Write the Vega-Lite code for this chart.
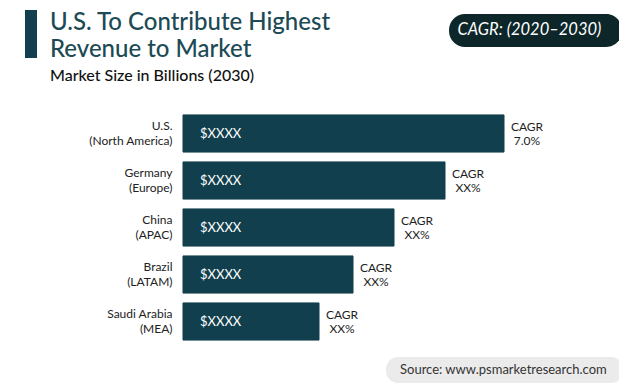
{
  "$schema": "https://vega.github.io/schema/vega-lite/v6.json",
  "autosize": "none",
  "width": 380,
  "height": 235,
  "padding": {"left": 183, "top": 110, "right": 56, "bottom": 47},
  "background": "white",
  "title": {
    "text": ["U.S. To Contribute Highest", "Revenue to Market"],
    "subtitle": "Market Size in Billions (2030)",
    "anchor": "start",
    "frame": "group",
    "offset": 0,
    "dx": -133,
    "dy": 80,
    "font": "Lato",
    "fontSize": 24,
    "fontWeight": 500,
    "color": "#1c4a55",
    "lineHeight": 27,
    "subtitleFont": "Lato",
    "subtitleFontSize": 16,
    "subtitleColor": "#111111",
    "subtitleFontWeight": 500,
    "subtitlePadding": 6
  },
  "data": {
    "values": [
      {"region": "U.S.\n(North America)", "value": 32.1, "size": "$XXXX", "cagr": "CAGR\n7.0%"},
      {"region": "Germany\n(Europe)", "value": 26.2, "size": "$XXXX", "cagr": "CAGR\nXX%"},
      {"region": "China\n(APAC)", "value": 21.1, "size": "$XXXX", "cagr": "CAGR\nXX%"},
      {"region": "Brazil\n(LATAM)", "value": 17.0, "size": "$XXXX", "cagr": "CAGR\nXX%"},
      {"region": "Saudi Arabia\n(MEA)", "value": 13.6, "size": "$XXXX", "cagr": "CAGR\nXX%"}
    ]
  },
  "encoding": {
    "y": {
      "field": "region",
      "type": "nominal",
      "sort": null,
      "scale": {"paddingInner": 0.21, "paddingOuter": 0.105},
      "axis": {
        "title": null,
        "ticks": false,
        "domain": false,
        "labelPadding": 11,
        "labelOffset": -7.5,
        "labelFont": "Lato",
        "labelFontSize": 12,
        "labelColor": "#222222",
        "labelLineHeight": 15,
        "labelExpr": "split(datum.label, '\\n')"
      }
    }
  },
  "layer": [
    {
      "mark": {"type": "bar"},
      "encoding": {
        "x": {"field": "value", "type": "quantitative", "scale": {"domain": [0, 38], "nice": false, "zero": true}, "axis": null},
        "color": {
          "datum": "CAGR: (2020–2030)",
          "scale": {"range": ["#123f4d"]},
          "legend": {
            "title": null,
            "orient": "none",
            "legendX": 266,
            "legendY": -96,
            "fillColor": "#0d2629",
            "cornerRadius": 16,
            "padding": 8,
            "symbolSize": 0,
            "symbolOpacity": 0,
            "symbolStrokeWidth": 0,
            "labelOffset": -16,
            "labelColor": "white",
            "labelFont": "Lato",
            "labelFontSize": 16.5,
            "labelFontStyle": "italic",
            "labelLimit": 400,
            "labelExpr": "datum.label + '\u2800'"
          }
        },
        "stroke": {
          "datum": "accent",
          "scale": {"range": ["#123f4d"]},
          "legend": {
            "title": null,
            "orient": "none",
            "legendX": -182,
            "legendY": -106,
            "padding": 0,
            "symbolType": "M0,-1L0,1",
            "symbolSize": 2304,
            "symbolStrokeWidth": 12,
            "symbolStrokeColor": "#134650",
            "labelExpr": "''",
            "labelOffset": 0
          }
        }
      }
    },
    {
      "mark": {"type": "text", "align": "left", "baseline": "middle", "dx": 17, "font": "Lato", "fontSize": 13, "color": "white"},
      "encoding": {
        "x": {"datum": 0, "type": "quantitative"},
        "text": {"field": "size"}
      }
    },
    {
      "mark": {"type": "text", "align": "center", "baseline": "middle", "dx": 23, "dy": -7, "font": "Lato", "fontSize": 12, "lineBreak": "\n", "lineHeight": 14},
      "encoding": {
        "x": {"field": "value", "type": "quantitative"},
        "text": {"field": "cagr"},
        "color": {
          "datum": "Source: www.psmarketresearch.com",
          "scale": {"range": ["#1e1e1e"]},
          "legend": {
            "title": null,
            "orient": "none",
            "legendX": 203,
            "legendY": 247,
            "fillColor": "#ebebeb",
            "cornerRadius": 12,
            "padding": 6,
            "symbolSize": 0,
            "symbolOpacity": 0,
            "symbolStrokeWidth": 0,
            "labelOffset": -5,
            "labelColor": "#333333",
            "labelFont": "Lato",
            "labelFontSize": 13,
            "labelLimit": 400,
            "labelExpr": "datum.label + '\u2800'"
          }
        }
      }
    }
  ],
  "resolve": {"scale": {"color": "independent"}, "legend": {"color": "independent"}},
  "config": {"view": {"stroke": null}}
}
